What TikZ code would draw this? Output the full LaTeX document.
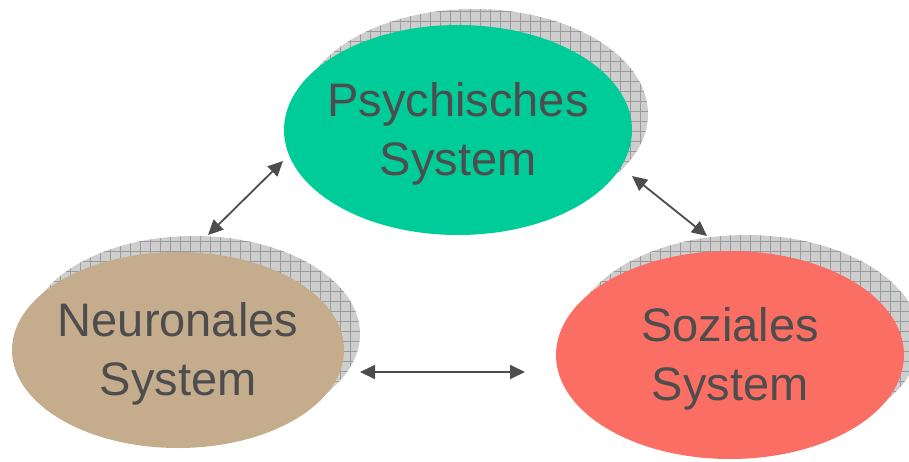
\documentclass[tikz,border=0pt]{standalone}
\usepackage{fontspec}
\setmainfont{Liberation Sans}
\usetikzlibrary{shapes.geometric,arrows.meta,patterns.meta}
\definecolor{psygreen}{RGB}{0,204,153}
\definecolor{neutan}{RGB}{196,172,140}
\definecolor{sozred}{RGB}{250,110,100}
\definecolor{txtgray}{RGB}{77,77,77}
\definecolor{shadowfill}{RGB}{206,206,206}
\definecolor{gridline}{RGB}{155,155,155}
\tikzset{
  sysnode/.style={ellipse, inner sep=-10pt, align=center, text=txtgray,
    font=\fontsize{47}{59}\selectfont},
  shadowfillstyle/.style={fill=shadowfill},
  shadowgrid/.style={pattern={Lines[angle=0,distance=10pt,line width=0.5pt]}, pattern color=gridline},
  shadowgridv/.style={pattern={Lines[angle=90,distance=10pt,line width=0.5pt]}, pattern color=gridline},
  biarrow/.style={draw=txtgray, line width=1.8pt, {Triangle[length=15pt,width=14pt]}-{Triangle[length=15pt,width=14pt]}}
}
\newcommand{\topstrut}{\rule{0pt}{42pt}}
\begin{document}
\begin{tikzpicture}[x=1pt,y=-1pt]
\useasboundingbox (0,0) rectangle (909,461);
% shadows
\foreach \cx/\cy/\rx/\ry in {474/114/174/105, 194/334/166/98, 746/339/174/104}{
  \fill[shadowfillstyle] (\cx,\cy) ellipse [x radius=\rx, y radius=\ry];
  \path[shadowgrid] (\cx,\cy) ellipse [x radius=\rx, y radius=\ry];
  \path[shadowgridv] (\cx,\cy) ellipse [x radius=\rx, y radius=\ry];
}
% nodes
\node[sysnode, fill=psygreen, minimum width=348pt, minimum height=210pt] (psy) at (458,130) {\topstrut Psychisches\\System};
\node[sysnode, fill=neutan, minimum width=332pt, minimum height=196pt] (neu) at (178,350) {\topstrut Neuronales\\System};
\node[sysnode, fill=sozred, minimum width=348pt, minimum height=208pt] (soz) at (730,355) {\topstrut Soziales\\System};
% connector ends
\coordinate (a1) at (283,161);
\coordinate (a2) at (208,235);
\coordinate (b1) at (632,176);
\coordinate (b2) at (707,236);
\coordinate (c1) at (360,372);
\coordinate (c2) at (525,372);
\draw[biarrow] (a2) -- (a1);
\draw[biarrow] (b1) -- (b2);
\draw[biarrow] (c1) -- (c2);
\end{tikzpicture}
\end{document}
